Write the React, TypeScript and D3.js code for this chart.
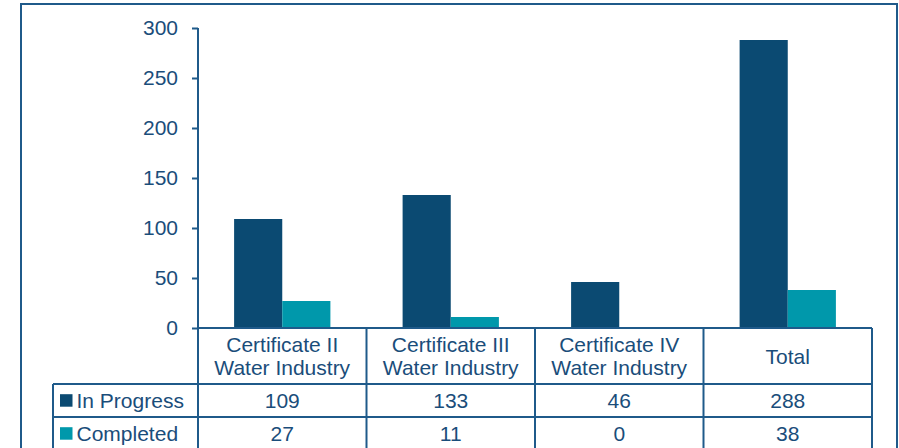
import React, { useEffect, useRef } from 'react';
import * as d3 from 'd3';

const categories = [['Certificate II', 'Water Industry'], ['Certificate III', 'Water Industry'], ['Certificate IV', 'Water Industry'], ['Total']];
const seriesNames = ['In Progress', 'Completed'];
const inProgress = [109, 133, 46, 288];
const completed = [27, 11, 0, 38];
const yTicks = [0, 50, 100, 150, 200, 250, 300];

const colors = ['#0b4a72', '#0098ab'];
const textColor = '#1a4d7a';
const lineColor = '#1f5a8a';
const font = "'Liberation Sans', Arial, sans-serif";
const fontSize = '21px';

export default function App() {
  const ref = useRef<SVGSVGElement>(null);

  useEffect(() => {
    if (!ref.current) return;
    const svg = d3.select(ref.current);
    svg.selectAll('*').remove();

    const left = 198, right = 872, top = 28, base = 328;
    const headerBottom = 384, rowH = 33, legendLeft = 53;
    const keys = categories.map((c) => c.join(' '));
    const values = [inProgress, completed];

    const x0 = d3.scaleBand().domain(keys).range([left, right]);
    const x1 = d3.scaleBand().domain(seriesNames).range([0, x0.bandwidth()]).paddingInner(0).paddingOuter(0.75);
    const y = d3.scaleLinear().domain([0, 300]).range([base, top]);

    // outer frame
    svg.append('rect')
      .attr('x', 21).attr('y', 4).attr('width', 876).attr('height', 460)
      .attr('fill', 'none').attr('stroke', lineColor).attr('stroke-width', 2);

    // bars
    seriesNames.forEach((s, si) => {
      svg.append('g').selectAll('rect')
        .data(values[si])
        .join('rect')
        .attr('x', (d, i) => x0(keys[i])! + x1(s)!)
        .attr('y', (d) => y(d))
        .attr('width', x1.bandwidth())
        .attr('height', (d) => base - y(d))
        .attr('fill', colors[si]);
    });

    // y axis
    const yAxis = d3.axisLeft(y).tickValues(yTicks).tickSize(6).tickSizeOuter(0);
    svg.append('g')
      .attr('transform', `translate(${left},0)`)
      .call(yAxis)
      .call((g) => g.select('.domain').remove())
      .call((g) => g.selectAll('.tick line').attr('stroke', lineColor).attr('stroke-width', 2))
      .call((g) => g.selectAll('.tick text')
        .attr('x', -20)
        .attr('fill', textColor)
        .attr('font-size', fontSize)
        .attr('font-family', font));

    const lines = svg.append('g').attr('stroke', lineColor).attr('stroke-width', 2);
    // axis line continues into the table
    lines.append('line').attr('x1', left).attr('x2', left).attr('y1', top).attr('y2', 460);
    // zero line / table top
    lines.append('line').attr('x1', left).attr('x2', right).attr('y1', base).attr('y2', base);
    // column separators
    keys.forEach((k) => {
      const xr = x0(k)! + x0.bandwidth();
      lines.append('line').attr('x1', xr).attr('x2', xr).attr('y1', base).attr('y2', 460);
    });
    // row lines
    [headerBottom, headerBottom + rowH].forEach((yy) => {
      lines.append('line').attr('x1', legendLeft).attr('x2', right).attr('y1', yy).attr('y2', yy);
    });
    lines.append('line').attr('x1', legendLeft).attr('x2', legendLeft).attr('y1', headerBottom).attr('y2', 460);

    // header labels
    categories.forEach((c, i) => {
      const cx = x0(keys[i])! + x0.bandwidth() / 2;
      const t = svg.append('text')
        .attr('x', cx)
        .attr('text-anchor', 'middle')
        .attr('fill', textColor)
        .attr('font-size', fontSize)
        .attr('font-family', font);
      const midY = (base + headerBottom) / 2;
      c.forEach((line, li) => {
        t.append('tspan')
          .attr('x', cx)
          .attr('y', midY + 7.5 + (li - (c.length - 1) / 2) * 23.4)
          .text(line);
      });
    });

    // data rows
    values.forEach((vals, si) => {
      const rowMid = headerBottom + rowH * si + rowH / 2;
      svg.append('rect')
        .attr('x', 60).attr('y', rowMid - 6.3).attr('width', 12.5).attr('height', 12.5)
        .attr('fill', colors[si]);
      svg.append('text')
        .attr('x', 76.5).attr('y', rowMid + 7)
        .attr('fill', textColor).attr('font-size', fontSize).attr('font-family', font)
        .text(seriesNames[si]);
      vals.forEach((v, i) => {
        svg.append('text')
          .attr('x', x0(keys[i])! + x0.bandwidth() / 2)
          .attr('y', rowMid + 7)
          .attr('text-anchor', 'middle')
          .attr('fill', textColor).attr('font-size', fontSize).attr('font-family', font)
          .text(v);
      });
    });
  }, []);

  return (
    <svg ref={ref} width={899} height={448}
      style={{ position: 'fixed', left: 0, top: 0, background: '#fff', display: 'block' }} />
  );
}
